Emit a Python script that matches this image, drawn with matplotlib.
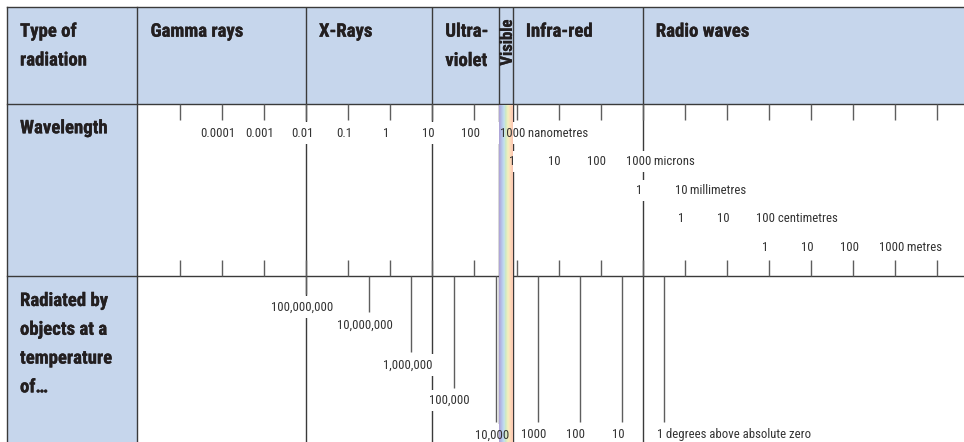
"""
Electromagnetic spectrum table: type of radiation, wavelength scales and
the temperature of objects whose radiation peaks at each wavelength.
"""
import matplotlib
matplotlib.use("Agg")
import matplotlib.pyplot as plt
import matplotlib.transforms as mtransforms
import matplotlib.patheffects as pe
from matplotlib.colors import LinearSegmentedColormap
from matplotlib.patches import Rectangle
import numpy as np

# ---- data -----------------------------------------------------------------
region_names = ["Gamma rays", "X-Rays", "Ultra-\nviolet", "Visible",
                "Infra-red", "Radio waves"]
# left edge of each region, metres
region_edges_m = [1e-15, 1e-11, 1e-8, 3.85e-7, 8.2e-7, 1e-3]

decade_ticks_m = [1e-14, 1e-13, 1e-12, 1e-11, 1e-10, 1e-9, 1e-8, 1e-7,
                  1e-6, 1e-5, 1e-4, 1e-3, 1e-2, 1e-1, 1e0, 1e1, 1e2,
                  1e3, 1e4]

nm_values = [0.0001, 0.001, 0.01, 0.1, 1, 10, 100, 1000]
micron_values = [1, 10, 100, 1000]
mm_values = [1, 10]
cm_values = [1, 10, 100]
metre_values = [1, 10, 100, 1000]

wavelength_rows = [
    (nm_values, "nanometres", 1e-9),
    (micron_values, "microns", 1e-6),
    (mm_values, "millimetres", 1e-3),
    (cm_values, "centimetres", 1e-2),
    (metre_values, "metres", 1.0),
]

temp_labels = ["100,000,000", "10,000,000", "1,000,000", "100,000",
               "10,000", "1000", "100", "10", "1"]
# wavelength at which each temperature is marked, metres
temp_peak_m = [1.0e-11, 3.2e-10, 3.2e-9, 3.2e-8, 3.2e-7, 3.2e-6,
               3.2e-5, 3.2e-4, 3.2e-3]

band_colours = ["#aea6d8", "#b5c4ea", "#c2e0ee", "#cce8c3", "#f4f0bd",
                "#fddcb8", "#fbc8b2"]

# ---- layout (pixels) ------------------------------------------------------
W, H = 964, 442
X0_PX = 137.6           # pixel of 1e-15 m
PX_PER_DECADE = 42.1
BORDER = 7
COL_RIGHT = 137
HEAD_BOTTOM = 104
WAVE_BOTTOM = 276
LINE_STEP = 28.8
ROW_BASELINES = [136.7, 165.0, 194.0, 222.3, 251.0]
TEMP_BASELINES = [310.5, 328.3, 368.3, 404.0, 438.3, 438.3, 438.3, 438.3, 438.3]
LABEL_DX = -4

BLUE = "#c6d6ec"
LINE = "#3a3a3a"
TICK = "#5e5e5e"
HEAD_TXT = "#231f20"
TXT = "#333333"
FONT = ["Roboto Condensed", "DejaVu Sans"]
BOLD_FX = [pe.withStroke(linewidth=0.2, foreground=HEAD_TXT)]

plt.rcParams["font.family"] = FONT

fig = plt.figure(figsize=(W / 100, H / 100), dpi=100)
ax = fig.add_axes([0, 0, 1, 1])
ax.set_xscale("log")
ax.set_xlim(10 ** (-15 - X0_PX / PX_PER_DECADE),
            10 ** (-15 + (W - X0_PX) / PX_PER_DECADE))
ax.set_ylim(H, 0)
ax.axis("off")

bt = mtransforms.blended_transform_factory(ax.transAxes, ax.transData)

# blue header row and label column
ax.add_patch(Rectangle((BORDER / W, BORDER), 1 - BORDER / W, HEAD_BOTTOM - BORDER,
                       transform=bt, fc=BLUE, ec="none", zorder=0))
ax.add_patch(Rectangle((BORDER / W, BORDER), (COL_RIGHT - BORDER) / W, H - BORDER,
                       transform=bt, fc=BLUE, ec="none", zorder=0))

# frame lines
for y in (BORDER, HEAD_BOTTOM, WAVE_BOTTOM):
    ax.plot([BORDER / W, 1], [y, y], transform=bt, color=LINE, lw=1.0, zorder=1)
for xp in (BORDER, COL_RIGHT):
    ax.plot([xp / W, xp / W], [BORDER, H], transform=bt, color=LINE, lw=1.0, zorder=1)

# region dividers
ax.vlines(region_edges_m[1:], BORDER, H, color=LINE, lw=1.0, zorder=1)

# decade ticks on both edges of the wavelength band
ax.vlines(decade_ticks_m, HEAD_BOTTOM, HEAD_BOTTOM + 16, color=TICK, lw=1.0, zorder=1)
ax.vlines(decade_ticks_m, WAVE_BOTTOM - 16, WAVE_BOTTOM, color=TICK, lw=1.0, zorder=1)

# temperature markers hanging from the wavelength band
ax.vlines(temp_peak_m, WAVE_BOTTOM, np.array(TEMP_BASELINES) - 16.5,
          color=TICK, lw=1.0, zorder=1)

# visible rainbow band
vis_lo, vis_hi = region_edges_m[3], region_edges_m[4]
cmap = LinearSegmentedColormap.from_list("visible", band_colours)
n_strips = 28
strip_edges = np.geomspace(vis_lo * 1.016, vis_hi / 1.016, n_strips + 1)
for i in range(n_strips):
    ax.add_patch(Rectangle((strip_edges[i], HEAD_BOTTOM + 0.5),
                           strip_edges[i + 1] - strip_edges[i], H - HEAD_BOTTOM,
                           fc=cmap(i / (n_strips - 1)), ec="none", zorder=3))

label_tr = mtransforms.offset_copy(ax.transData, fig=fig, x=LABEL_DX, y=0, units="dots")


def value_label(x, y, s, unit=None, size=9.2):
    # white box underneath breaks the lines, the text itself sits above the band
    ax.text(x, y, s, transform=label_tr, ha="center", va="baseline", fontsize=size,
            color="none", zorder=2,
            bbox=dict(boxstyle="square,pad=0.35", fc="white", ec="none"))
    t = ax.text(x, y, s, transform=label_tr, ha="center", va="baseline",
                fontsize=size, color=TXT, zorder=4)
    if unit:
        ax.annotate(" " + unit, xy=(1, 0), xycoords=t, ha="left", va="bottom",
                    fontsize=size, color=TXT, zorder=4)


for (values, unit, scale), yb in zip(wavelength_rows, ROW_BASELINES):
    for j, v in enumerate(values):
        value_label(v * scale, yb, f"{v:g}", unit if j == len(values) - 1 else None)

for j, (lab, pos, yb) in enumerate(zip(temp_labels, temp_peak_m, TEMP_BASELINES)):
    value_label(pos, yb, lab,
                "degrees above absolute zero" if j == len(temp_labels) - 1 else None)

# header texts
head_tr = mtransforms.offset_copy(ax.transData, fig=fig, x=13, y=0, units="dots")
for name, edge in zip(region_names, region_edges_m):
    if name == "Visible":
        continue
    for i, line in enumerate(name.split("\n")):
        ax.text(edge, 36.7 + i * 29.3, line, transform=head_tr, ha="left",
                va="baseline", fontsize=13.5, fontweight="bold", color=HEAD_TXT,
                path_effects=BOLD_FX, zorder=5)

vis_tr = mtransforms.offset_copy(ax.transData, fig=fig, x=-1, y=0, units="dots")
ax.text(vis_hi, 42.5, "Visible", transform=vis_tr, rotation=90,
        rotation_mode="anchor", ha="center", va="baseline", fontsize=12,
        fontweight="bold", color=HEAD_TXT, path_effects=BOLD_FX, zorder=5)

left_titles = [("Type of\nradiation", 36.7),
               ("Wavelength", 133.3),
               ("Radiated by\nobjects at a\ntemperature\nof\u2026", 306.0)]
for title, yb in left_titles:
    for i, line in enumerate(title.split("\n")):
        ax.text((BORDER + 13) / W, yb + i * LINE_STEP, line, transform=bt,
                ha="left", va="baseline", fontsize=13.5, fontweight="bold",
                color=HEAD_TXT, path_effects=BOLD_FX, zorder=5)

fig.savefig("out.png", dpi=100)
